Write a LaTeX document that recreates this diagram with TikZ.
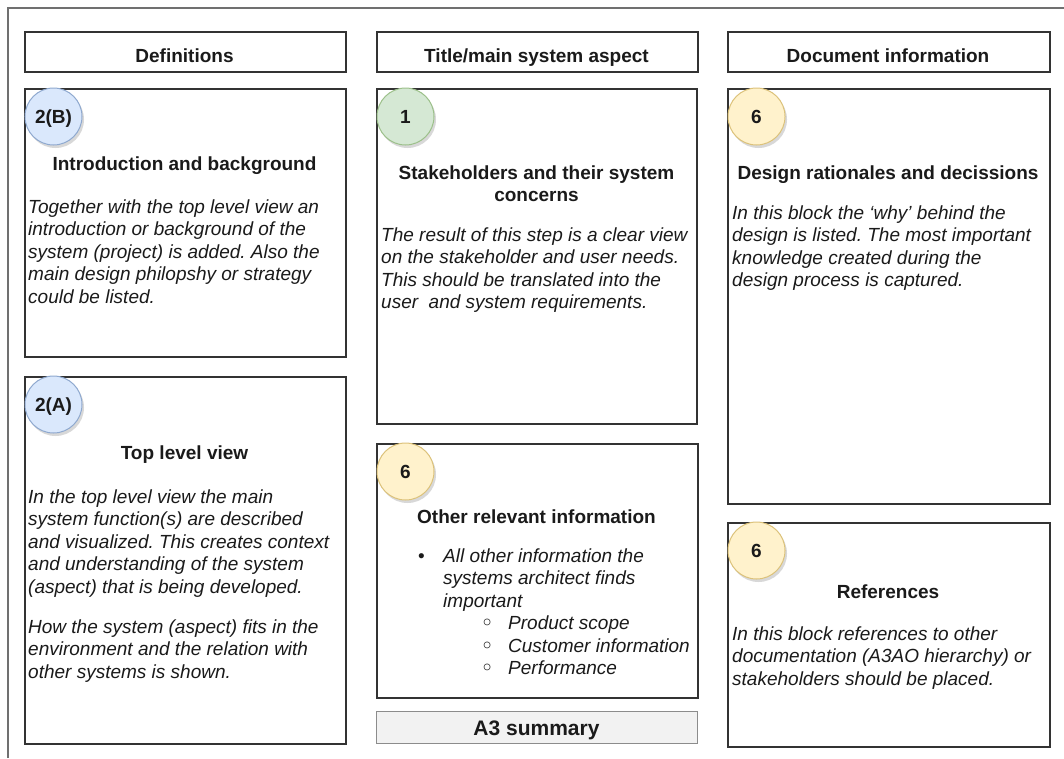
\documentclass[tikz,border=0pt]{standalone}
\usepackage{fontspec}
\setmainfont{Liberation Sans}
\newfontfamily\dejavu{DejaVu Sans}
\usetikzlibrary{shadows}
\frenchspacing

\definecolor{framegray}{HTML}{707070}
\definecolor{boxline}{HTML}{333333}
\definecolor{inkc}{HTML}{1A1A1A}
\definecolor{bluefill}{HTML}{DAE8FC}
\definecolor{blueline}{HTML}{8FA9CF}
\definecolor{greenfill}{HTML}{D5E8D4}
\definecolor{greenline}{HTML}{9CC08A}
\definecolor{yellowfill}{HTML}{FFF2CC}
\definecolor{yellowline}{HTML}{DCC27A}
\definecolor{summaryfill}{HTML}{F2F2F2}
\definecolor{summaryline}{HTML}{8C8C8C}

% left-aligned block of explicit lines; the node's base is the first baseline
\newcommand\bodylines[1]{\parbox[t]{330pt}{\raggedright #1}}
\newcommand\titlelines[1]{\parbox[t]{310pt}{\centering #1}}
\newcommand\subbullet{\makebox[27pt][l]{\upshape\dejavu\bfseries ◦}}

\tikzset{
  panel/.style={draw=boxline, line width=1.5pt, fill=white, anchor=north west, inner sep=0pt},
  summarybox/.style={panel, draw=summaryline, line width=1pt, fill=summaryfill},
  headtext/.style={anchor=base, inner sep=0pt, text=inkc, font=\fontsize{19}{22.5}\selectfont\bfseries},
  bodytext/.style={anchor=base west, inner sep=0pt, text=inkc, font=\fontsize{19}{22.5}\selectfont\itshape},
  stepmark/.style={circle, minimum size=57pt, inner sep=0pt, line width=1pt,
    text height=13.7pt, text depth=0pt, text=inkc,
    font=\fontsize{19}{22.5}\selectfont\bfseries,
    drop shadow={shadow xshift=2pt, shadow yshift=-3pt, opacity=0.3}},
  bluemark/.style={stepmark, fill=bluefill, draw=blueline},
  greenmark/.style={stepmark, fill=greenfill, draw=greenline},
  yellowmark/.style={stepmark, fill=yellowfill, draw=yellowline},
}

\begin{document}
\begin{tikzpicture}[x=1pt, y=-1pt]
\useasboundingbox (0,0) rectangle (1064,758);

% outer sheet frame (continues past the right and bottom edges)
\draw[framegray, line width=2pt] (8,758) -- (8,8) -- (1064,8);

% column headers
\node[panel, minimum width=321pt, minimum height=40pt] (hdef) at (24,31) {};
\node[panel, minimum width=321pt, minimum height=40pt] (htitle) at (376,31) {};
\node[panel, minimum width=322pt, minimum height=40pt] (hdoc) at (727,31) {};
\node[headtext] (thdef) at (184.5,62) {Definitions};
\node[headtext] (thtitle) at (536.5,62) {Title/main system aspect};
\node[headtext] (thdoc) at (888,62) {Document information};

% content panels
\node[panel, minimum width=321pt, minimum height=268pt] (intro) at (24,88) {};
\node[panel, minimum width=321pt, minimum height=367pt] (toplevel) at (24,376) {};
\node[panel, minimum width=320pt, minimum height=335pt] (stake) at (376,88) {};
\node[panel, minimum width=321pt, minimum height=254pt] (other) at (376,443) {};
\node[summarybox, minimum width=321pt, minimum height=32pt] (summary) at (376,711) {};
\node[panel, minimum width=322pt, minimum height=415pt] (design) at (727,88) {};
\node[panel, minimum width=322pt, minimum height=224pt] (refs) at (727,522) {};

% step markers
\node[bluemark] (m2b) at ([xshift=29.5pt, yshift=-28.5pt]intro.north west) {2(B)};
\node[bluemark] (m2a) at ([xshift=29.5pt, yshift=-28.5pt]toplevel.north west) {2(A)};
\node[greenmark] (m1) at ([xshift=29.5pt, yshift=-28.5pt]stake.north west) {1};
\node[yellowmark] (m6a) at ([xshift=29.5pt, yshift=-28.5pt]other.north west) {6};
\node[yellowmark] (m6b) at ([xshift=29.5pt, yshift=-28.5pt]design.north west) {6};
\node[yellowmark] (m6c) at ([xshift=29.5pt, yshift=-28.5pt]refs.north west) {6};

% Definitions column
\node[headtext] (tintro) at (184.5,170) {Introduction and background};
\node[bodytext] (bintro) at (28,213) {\bodylines{Together with the top level view an\\
introduction or background of the\\
system (project) is added. Also the\\
main design philopshy or strategy\\
could be listed.}};

\node[headtext] (ttop) at (184.5,459) {Top level view};
\node[bodytext] (btop) at (28,503) {\bodylines{In the top level view the main\\
system function(s) are described\\
and visualized. This creates context\\
and understanding of the system\\
(aspect) that is being developed.\\[17.5pt]
How the system (aspect) fits in the\\
environment and the relation with\\
other systems is shown.}};

% Title column
\node[headtext] (tstake) at (536.5,179) {\titlelines{Stakeholders and their system\\concerns}};
\node[bodytext] (bstake) at (381,241) {\bodylines{The result of this step is a clear view\\
on the stakeholder and user needs.\\
This should be translated into the\\
user~ and system requirements.}};

\node[headtext] (tother) at (536.5,523) {Other relevant information};
\node[bodytext] (bother) at (418,562) {\bodylines{%
\makebox[25pt][l]{\upshape\textbullet}All other information the\\
\hspace*{25pt}systems architect finds\\
\hspace*{25pt}important\\
\hspace*{63pt}\subbullet Product scope\\
\hspace*{63pt}\subbullet Customer information\\
\hspace*{63pt}\subbullet Performance}};

\node[headtext, font=\fontsize{21}{24}\selectfont\bfseries] (tsummary) at (536.5,735) {A3 summary};

% Document information column
\node[headtext] (tdesign) at (888,179) {Design rationales and decissions};
\node[bodytext] (bdesign) at (732,219) {\bodylines{In this block the `why' behind the\\
design is listed. The most important\\
knowledge created during the\\
design process is captured.}};

\node[headtext] (trefs) at (888,598) {References};
\node[bodytext] (brefs) at (732,640) {\bodylines{In this block references to other\\
documentation (A3AO hierarchy) or\\
stakeholders should be placed.}};
\end{tikzpicture}
\end{document}
